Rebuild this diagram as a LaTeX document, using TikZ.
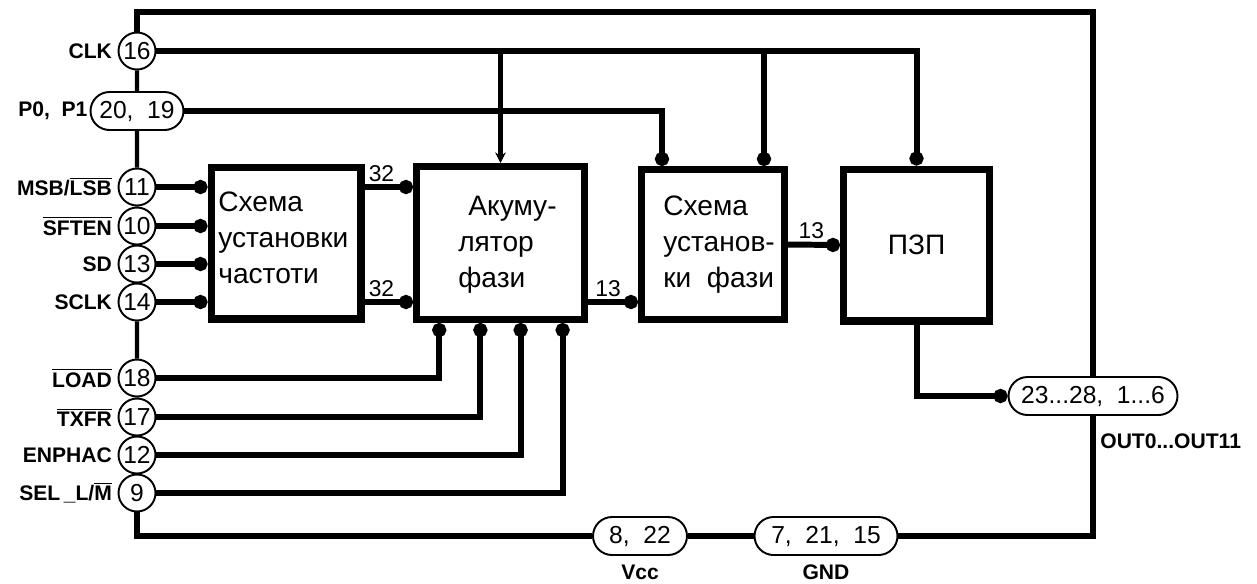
\documentclass[tikz,border=0pt]{standalone}
\usepackage{fontspec}
\setmainfont{Liberation Sans}
\usetikzlibrary{arrows.meta,calc,positioning,shapes.misc}

\newcommand\pinfont{\fontsize{14}{16}\selectfont}
\newcommand\lblfont{\fontsize{12}{14}\selectfont\bfseries}
\newcommand\blkfont{\fontsize{16}{20.5}\selectfont}
\newcommand\ovl[1]{$\overline{\mbox{#1}}$}

\begin{document}
\begin{tikzpicture}[x=0.02cm,y=-0.02cm,
    frame/.style={line width=3.6pt},
    bus/.style={line width=2.4pt},
    sig/.style={line width=3.4pt},
    blk/.style={draw, line width=4pt, font=\blkfont},
    blktxt/.style={font=\blkfont, align=left, inner sep=0pt, anchor=west},
    pin/.style={draw, circle, fill=white, line width=1.1pt, minimum size=0.74cm, inner sep=0pt, font=\pinfont},
    pins/.style={draw, rounded rectangle, fill=white, line width=1.1pt, minimum height=0.76cm, inner sep=0pt, font=\pinfont},
    pinlbl/.style={font=\lblfont, inner sep=0pt},
    wlbl/.style={font=\fontsize{13}{15}\selectfont, inner sep=1.5pt, above},
    dot/.style={-{Circle[length=8pt]}},
    arr/.style={-{Stealth[length=6pt,width=6pt]}}]
\useasboundingbox (0,0) rectangle (1257,583);

% blocks
\node[blk, minimum width=3cm, minimum height=3.04cm] (fs) at (286,243) {};
\node[blk, minimum width=3.36cm, minimum height=3.06cm] (acc) at (500.5,243) {};
\node[blk, minimum width=2.86cm, minimum height=3cm] (ph) at (713,244.5) {};
\node[blk, minimum width=2.92cm, minimum height=3.04cm] (rom) at (916.5,245) {ПЗП};
\node[blktxt] (fstxt) at (218,238) {Схема\\установки\\частоти};
\node[blktxt] (acctxt) at (458,245) {\hspace*{0.36em}Акуму-\\лятор\\фази};
\node[blktxt] (phtxt) at (663,245) {Схема\\установ-\\ки\ \ фази};

% pins
\foreach \nm/\y/\txt in {16/51/CLK, 11/187/{MSB/\ovl{LSB}}, 10/226/\ovl{SFTEN}, 13/264/SD, 14/302/SCLK,
    18/378/\ovl{LOAD}, 17/417/\ovl{TXFR}, 12/455/ENPHAC, 9/493/{SEL\,\_L/\ovl{M}}} {
    \node[pin] (pin\nm) at (137,\y) {\nm};
    \node[pinlbl, left=3pt of pin\nm] {\txt};
}
\node[pins, minimum width=1.86cm] (p01) at (137,111) {20,\ \ 19};
\node[pinlbl, left=1pt of p01] {P0,\ \ P1};
\node[pins, minimum width=3.38cm] (out) at (1093,396) {23...28,\ \ 1...6};
\node[pins, minimum width=1.88cm] (vcc) at (640,536) {8,\ \ 22};
\node[pins, minimum width=2.86cm] (gnd) at (826,536) {7,\ \ 21,\ \ 15};
\node[pinlbl, below=5pt of vcc] {Vcc};
\node[pinlbl, below=5pt of gnd] {GND};
\node[pinlbl, anchor=north west] at ($(out.south)+(7,17)$) {OUT0...OUT11};

% frame
\coordinate (ctl) at (137,12);
\coordinate (ctr) at (1093,12);
\coordinate (cbr) at (1093,536);
\coordinate (cbl) at (137,536);
\draw[frame] (pin16.north) -- (ctl) -- (ctr) -- (out.north);
\draw[frame] (out.south) -- (cbr) -- (gnd.east);
\draw[frame] (gnd.west) -- (vcc.east);
\draw[frame] (vcc.west) -- (cbl) -- (pin9.south);
\draw[bus] (pin16) -- (p01) -- (pin11) -- (pin10) -- (pin13) -- (pin14) -- (pin18) -- (pin17) -- (pin12) -- (pin9);

% clock and P0/P1
\coordinate (phA) at ($(ph.north west)!0.16!(ph.north east)$);
\coordinate (phB) at ($(ph.north east)!0.16!(ph.north west)$);
\draw[sig, dot] (pin16.east) -| (rom.north);
\draw[sig, arr] (pin16 -| acc.north) -- (acc.north);
\draw[sig, dot] (pin16 -| phB) -- (phB);
\draw[sig, dot] (p01.east) -| (phA);

% serial inputs
\foreach \p in {11,10,13,14}
    \draw[sig, dot] (pin\p.east) -- (pin\p -| fs.west);

% control inputs of the accumulator
\foreach \p/\f in {18/0.15,17/0.385,12/0.615,9/0.855}
    \draw[sig, dot] (pin\p.east) -| ($(acc.south west)!\f!(acc.south east)$);

% data paths
\draw[sig, dot] (fs.east |- pin11) -- node[wlbl, pos=0.35] {32} (acc.west |- pin11);
\draw[sig, dot] (fs.east |- pin14) -- node[wlbl, pos=0.35] {32} (acc.west |- pin14);
\draw[sig, dot] (acc.east |- pin14) -- node[wlbl, pos=0.4] {13} (ph.west |- pin14);
\draw[sig, dot] (ph.east) -- node[wlbl, pos=0.45] {13} (rom.west);
\draw[sig, dot] (rom.south) |- (out.west);
\end{tikzpicture}
\end{document}
